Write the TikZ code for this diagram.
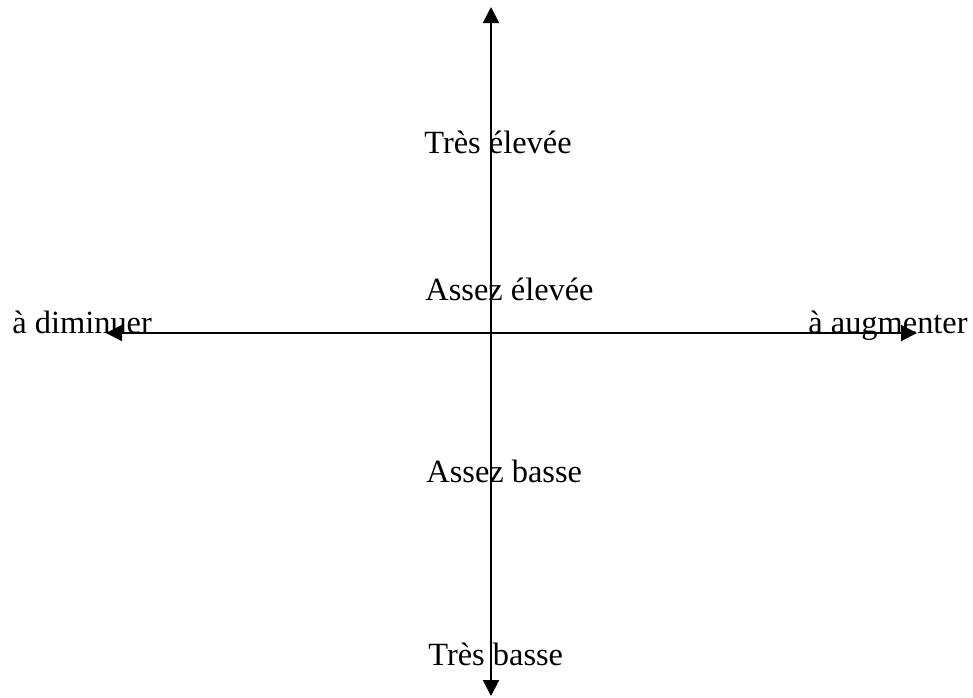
\documentclass[tikz,border=0pt]{standalone}
\usepackage{fontspec}
\setmainfont{Liberation Serif}
\usetikzlibrary{positioning,arrows.meta}

\begin{document}
\begin{tikzpicture}[
    x=0.5pt, y=-0.5pt,
    axis/.style  ={{Triangle[length=8pt, width=8pt]}-{Triangle[length=8pt, width=8pt]}, line width=1pt},
    lab/.style   ={anchor=base west, inner sep=0pt, font=\fontsize{16.2}{19}\selectfont}
  ]
    \useasboundingbox (0,0) rectangle (973,697);

    % --- axis ends ---
    \coordinate (top)    at (491, 7);
    \coordinate (bottom) at (491, 696);
    \coordinate (left)   at (106, 333);
    \coordinate (right)  at (917, 333);

    % --- axes ---
    \draw[axis] (bottom) -- (top);
    \draw[axis] (left) -- (right);

    % --- labels on the vertical axis ---
    \node[lab] (tres-elevee)  at (424, 153) {Très élevée};
    \node[lab] (assez-elevee) at (425, 300) {Assez élevée};
    \node[lab] (assez-basse)  at (426, 482) {Assez basse};
    \node[lab] (tres-basse)   at (428, 665) {Très basse};

    % --- labels at the ends of the horizontal axis ---
    \node[lab] (diminuer)   at (12, 333)  {à diminuer};
    \node[lab] (augmenter)  at (808, 333) {à augmenter};
  \end{tikzpicture}
\end{document}
